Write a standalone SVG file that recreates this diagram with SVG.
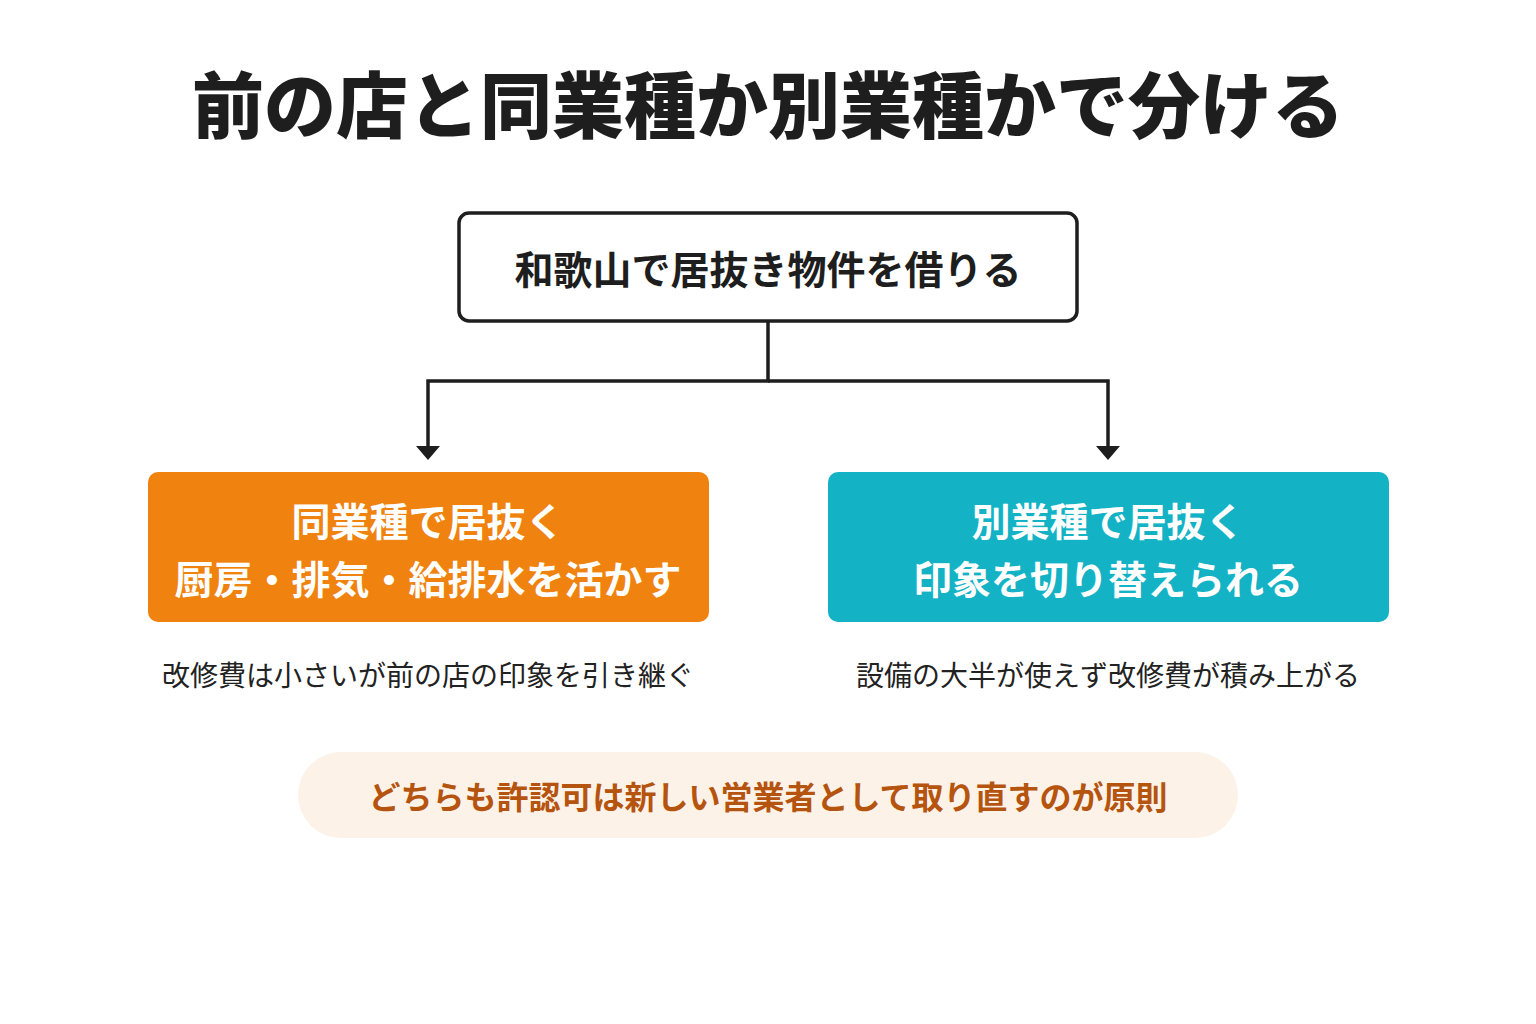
<svg xmlns="http://www.w3.org/2000/svg" width="1536" height="1024" viewBox="0 0 1536 1024">
<style>
text{font-family:"Noto Sans CJK JP","Noto Sans",sans-serif;text-anchor:middle;dominant-baseline:central}
.t{font-size:72px;font-weight:900;fill:#1e1e1e}
.b{font-size:39px;font-weight:700;fill:#1e1e1e}
.w{font-size:39px;font-weight:700;fill:#fff}
.c{font-size:28px;fill:#222}
.n{font-size:32px;font-weight:700;fill:#B5540F}
.ln{stroke:#1e1e1e;stroke-width:3.5;fill:none}
</style>
<defs><marker id="ar" viewBox="0 0 10 10" refX="10" refY="5" markerWidth="6" markerHeight="6" markerUnits="userSpaceOnUse" orient="auto"><path d="M0,0L10,5L0,10z" fill="#1e1e1e"/></marker></defs>
<rect width="1536" height="1024" fill="#fff"/>
<text class="t" x="768" y="100">前の店と同業種か別業種かで分ける</text>
<g id="connectors">
<path class="ln" d="M768,321V381H428V448"/>
<path class="ln" d="M768,381H1108V448"/>
<path d="M416,446L428,460L440,446z" fill="#1e1e1e"/>
<path d="M1096,446L1108,460L1120,446z" fill="#1e1e1e"/>
</g>
<g id="top"><rect x="459" y="213" width="618" height="108" rx="10" fill="#fff" stroke="#1e1e1e" stroke-width="3.5"/>
<text class="b" x="768" y="267">和歌山で居抜き物件を借りる</text></g>
<g id="same"><rect x="148" y="472" width="561" height="150" rx="10" fill="#F0820F"/>
<text class="w" x="428" y="519">同業種で居抜く</text>
<text class="w" x="428" y="577">厨房・排気・給排水を活かす</text></g>
<g id="diff"><rect x="828" y="472" width="561" height="150" rx="10" fill="#13B2C5"/>
<text class="w" x="1108" y="519">別業種で居抜く</text>
<text class="w" x="1108" y="577">印象を切り替えられる</text></g>
<text class="c" x="428" y="674">改修費は小さいが前の店の印象を引き継ぐ</text>
<text class="c" x="1108" y="674">設備の大半が使えず改修費が積み上がる</text>
<g id="note"><rect x="298" y="752" width="940" height="86" rx="43" fill="#FDF2E7"/>
<text class="n" x="768" y="795">どちらも許認可は新しい営業者として取り直すのが原則</text></g>
</svg>
